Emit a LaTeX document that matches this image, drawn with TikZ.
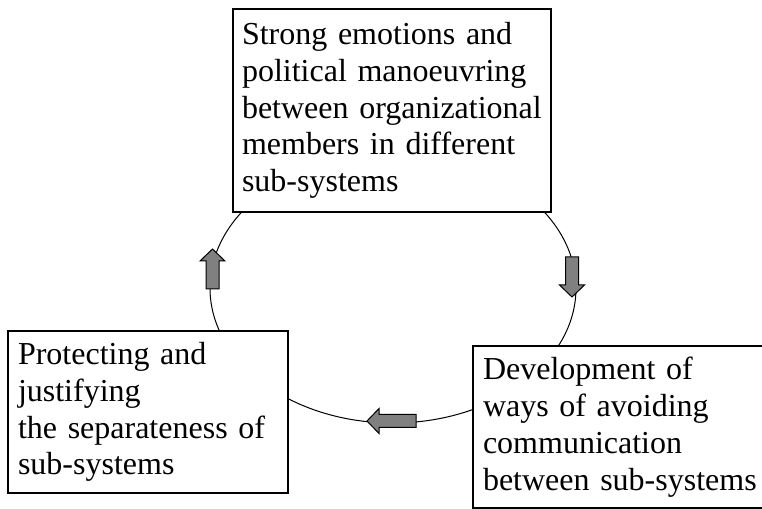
\documentclass[tikz,border=0pt]{standalone}
\usepackage{fontspec}
\setmainfont{Liberation Serif}
\usetikzlibrary{}

\tikzset{
  stage/.style={draw, line width=1.4bp, fill=white, anchor=north west, align=left,
    outer sep=0pt, inner ysep=0pt, font=\fontsize{16bp}{18.4bp}\selectfont},
  pics/blockarrow/.style={code={
    \draw[line width=0.5bp, fill=gray] (0,0) -- (-12,12.5) -- (-12,6.5) -- (-#1,6.5)
      -- (-#1,-6.5) -- (-12,-6.5) -- (-12,-12.5) -- cycle;}}
}

\begin{document}
\begin{tikzpicture}[x=0.5bp,y=-0.5bp]
  \useasboundingbox (0,0) rectangle (762,509);
  \draw[line width=0.5bp] (393,288) ellipse [x radius=91.5bp, y radius=67.5bp];
  \node[stage, text width=150bp, inner xsep=4.5bp, minimum height=101.5bp] (emo) at (233,9)
    {Strong emotions and\\political manoeuvring\\between organizational\\members in different\\sub-systems};
  \node[stage, text width=130bp, inner xsep=5bp, minimum height=81bp] (prot) at (8,331)
    {Protecting and\\justifying\\the separateness of\\sub-systems};
  \node[stage, text width=150bp, inner xsep=5bp, minimum height=81bp] (dev) at (473,346)
    {Development of\\ways of avoiding\\communication\\between sub-systems};
  \pic[rotate=90] (up) at (212.5,249) {blockarrow=40};
  \pic[rotate=-90] (down) at (572,297) {blockarrow=40};
  \pic[rotate=180] (back) at (367,421) {blockarrow=49};
\end{tikzpicture}
\end{document}
